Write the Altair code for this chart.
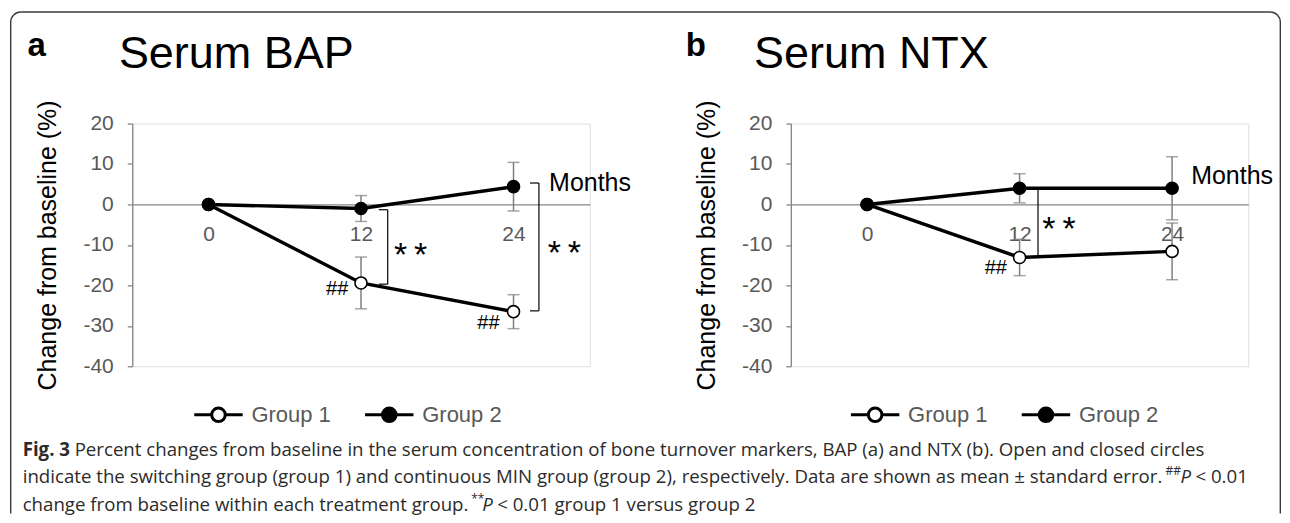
import altair as alt
import pandas as pd

# ---------------- values ----------------
MONTHS = [0, 12, 24]
GROUPS = ["Group 1", "Group 2"]

BAP_G1 = [0.0, -19.4, -26.5]
BAP_G1_SE = [0.0, 6.4, 4.2]
BAP_G2 = [0.0, -1.0, 4.4]
BAP_G2_SE = [0.0, 3.2, 6.0]

NTX_G1 = [0.0, -13.1, -11.6]
NTX_G1_SE = [0.0, 4.5, 7.0]
NTX_G2 = [0.0, 4.0, 4.0]
NTX_G2_SE = [0.0, 3.6, 7.8]

X_TICKS = [0, 12, 24]
Y_TICKS = [20, 10, 0, -10, -20, -30, -40]

# significance annotations (data units): bracket x, top, bottom
BAP_BRACKETS = [(14.1, -1.3, -19.7), (26.0, 5.3, -26.3)]
BAP_STARS = [(15.9, -10.8), (28.0, -10.2)]
BAP_HASH = [(11.0, -21.0), (22.9, -29.2)]
BAP_MONTHS = [(26.8, 5.3)]

NTX_BRACKETS = [(13.45, 4.1, -12.9)]
NTX_STARS = [(15.1, -4.4)]
NTX_HASH = [(11.0, -15.6)]
NTX_MONTHS = [(25.5, 7.1)]

CAPTION_1 = ("Percent changes from baseline in the serum concentration of bone turnover markers, "
             "BAP (a) and NTX (b). Open and closed circles")
CAPTION_2 = ("indicate the switching group (group 1) and continuous MIN group (group 2), respectively. "
             "Data are shown as mean \u00b1 standard error.")
CAPTION_3 = "change from baseline within each treatment group."
CAPTION_3_TAIL = "< 0.01 group 1 versus group 2"

# ---------------- styling ----------------
FONT = "Liberation Sans, Arial, Helvetica, sans-serif"
CAP_FONT = "Open Sans, Noto Sans, sans-serif"
CAP_COLOR = "#2b2b2b"
CAP_SIZE = 18.7
AX = "#868686"
TXT = "#595959"
ERR = "#7f7f7f"
W, H = 458, 243
XDOM = [-6, 30]
YDOM = [-40, 20]
ONE = alt.Data(values=[{"k": 1}])
STUB = 0.7

LEG_PATH = ("M-1,0H-0.28A0.28,0.28,0,1,1,0.28,0A0.28,0.28,0,1,1,-0.28,0"
            "M0.28,0H1")


def long_df(g1, g1se, g2, g2se):
    rows = []
    for grp, m, s in ((GROUPS[0], g1, g1se), (GROUPS[1], g2, g2se)):
        for mo, v, e in zip(MONTHS, m, s):
            rows.append(dict(month=mo, value=v, lo=v - e, hi=v + e, se=e, group=grp))
    return pd.DataFrame(rows)


def ptext(text, x, y, size, weight="normal", color="black", font=FONT,
          align="left", baseline="alphabetic", style="normal"):
    return alt.Chart(ONE).mark_text(
        text=text, fontSize=size, fontWeight=weight, color=color, font=font,
        align=align, baseline=baseline, fontStyle=style
    ).encode(x=alt.value(x), y=alt.value(y))


def panel(df, brackets, stars, hashes, months, ox, oy, letter, letter_x, title, title_x,
          legx, extra):
    xs = alt.Scale(domain=XDOM, nice=False, zero=False)
    ys = alt.Scale(domain=YDOM, nice=False, zero=False)
    x_axis = alt.Axis(values=X_TICKS, orient="bottom", offset=-H * 40 / 60,
                      domainColor=AX, domainWidth=1.3, ticks=False, tickSize=0,
                      labelPadding=19, labelFont=FONT, labelFontSize=21,
                      labelColor=TXT, grid=False, title=None, labelFlush=False,
                      labelExpr="datum.value + ''")
    y_axis = alt.Axis(values=Y_TICKS, orient="left", domainColor=AX, domainWidth=1.3,
                      tickColor=AX, tickWidth=1.3, tickSize=5, labelPadding=14,
                      labelFont=FONT, labelFontSize=21, labelColor=TXT, grid=False,
                      title="Change from baseline (%)", titleFont=FONT,
                      titleFontSize=25, titleFontWeight="normal", titleColor="black",
                      titlePadding=22, labelExpr="datum.value + ''")

    def X(f):
        return alt.X(f, type="quantitative", scale=xs, axis=x_axis)

    def Y(f):
        return alt.Y(f, type="quantitative", scale=ys, axis=y_axis)

    base = alt.Chart(df)
    err = base.transform_filter("datum.se > 0")
    bars = err.mark_rule(color=ERR, strokeWidth=1.5).encode(x=X("month"), y=Y("lo"), y2="hi")
    cap_lo = err.mark_tick(color=ERR, orient="horizontal", size=12, thickness=1.5).encode(
        x=X("month"), y=Y("lo"))
    cap_hi = err.mark_tick(color=ERR, orient="horizontal", size=12, thickness=1.5).encode(
        x=X("month"), y=Y("hi"))
    lines = base.mark_line(color="black", strokeWidth=3.4).encode(
        x=X("month"), y=Y("value"), detail="group:N")
    legend = alt.Legend(title=None, orient="none", legendX=legx, legendY=265.5,
                        direction="horizontal", symbolType=LEG_PATH, symbolSize=2352,
                        symbolStrokeColor="black", symbolStrokeWidth=3,
                        symbolOpacity=1, labelFont=FONT, labelFontSize=22,
                        labelColor=TXT, labelOffset=7, columnPadding=27, padding=0)
    points = base.mark_point(filled=True, shape="circle", size=145, stroke="black",
                             strokeWidth=1.6, opacity=1).encode(
        x=X("month"), y=Y("value"),
        fill=alt.Fill("group:N", scale=alt.Scale(domain=GROUPS, range=["white", "black"]),
                      legend=legend))

    bdf = pd.DataFrame([dict(x=b[0], xs=b[0] - STUB, top=b[1], bot=b[2]) for b in brackets])
    br_v = alt.Chart(bdf).mark_rule(color="black", strokeWidth=1.2).encode(
        x=X("x"), y=Y("top"), y2="bot")
    br_t = alt.Chart(bdf).mark_rule(color="black", strokeWidth=1.2).encode(
        x=X("xs"), x2="x", y=Y("top"))
    br_b = alt.Chart(bdf).mark_rule(color="black", strokeWidth=1.2).encode(
        x=X("xs"), x2="x", y=Y("bot"))

    sdf = pd.DataFrame([dict(x=s[0], y=s[1], t="*\u2009*") for s in stars])
    star_t = alt.Chart(sdf).mark_text(font=FONT, fontSize=34, dy=8, baseline="middle",
                                      align="center", color="black").encode(
        x=X("x"), y=Y("y"), text="t:N")
    hdf = pd.DataFrame([dict(x=h[0], y=h[1], t="##") for h in hashes])
    hash_t = alt.Chart(hdf).mark_text(font=FONT, fontSize=20, baseline="middle",
                                      align="right", color="black").encode(
        x=X("x"), y=Y("y"), text="t:N")
    mdf = pd.DataFrame([dict(x=m[0], y=m[1], t="Months") for m in months])
    mon_t = alt.Chart(mdf).mark_text(font=FONT, fontSize=25, baseline="middle",
                                     align="left", color="black").encode(
        x=X("x"), y=Y("y"), text="t:N")

    head = [
        ptext(letter, letter_x - ox, 55 - oy, 33, weight="bold"),
        ptext(title, title_x - ox, 66.7 - oy, 45),
    ]
    layers = [bars, cap_lo, cap_hi, lines, points, br_v, br_t, br_b,
              star_t, hash_t, mon_t] + head + extra
    return alt.layer(*layers).properties(width=W, height=H)


# ---------------- decorations (page pixel positions) ----------------
AOX, AOY = 131.7, 122.7
BOX, BOY = 791.0, 122.7


def rel(x, y):
    return x - AOX, y - AOY


def hrule(x1, x2, y):
    a, b = rel(x1, y)
    c, _ = rel(x2, y)
    return alt.Chart(ONE).mark_rule(color="#3a3a3a", strokeWidth=1.4).encode(
        x=alt.value(a), x2=alt.value(c), y=alt.value(b))


def vrule(x, y1, y2):
    a, b = rel(x, y1)
    _, d = rel(x, y2)
    return alt.Chart(ONE).mark_rule(color="#3a3a3a", strokeWidth=1.4).encode(
        x=alt.value(a), y=alt.value(b), y2=alt.value(d))


def corner(cx, cy, t1, t2):
    a, b = rel(cx, cy)
    return alt.Chart(ONE).mark_arc(radius=10.7, innerRadius=9.3, theta=t1, theta2=t2,
                                   color="#3a3a3a").encode(x=alt.value(a), y=alt.value(b))


border = [
    hrule(20, 1271, 11),
    vrule(10, 21, 513),
    vrule(1281, 21, 513),
    corner(20, 21, 4.712389, 6.283185),
    corner(1271, 21, 0.0, 1.570796),
]


def ctext(text, x, y, size=CAP_SIZE, weight="normal", style="normal"):
    return ptext(text, *rel(x, y), size, weight=weight, font=CAP_FONT, color=CAP_COLOR,
                 baseline="middle", style=style)


L1, L2, L3 = 449.5, 477.0, 504.5
cap = [
    ctext("Fig. 3", 22, L1, weight="bold"),
    ctext(CAPTION_1, 74, L1),
    ctext(CAPTION_2, 22, L2),
    ctext("##", 1166, L2 - 6, size=12),
    ctext("P", 1181, L2, style="italic"),
    ctext("< 0.01", 1196, L2),
    ctext(CAPTION_3, 22, L3),
    ctext("**", 471, L3 - 6, size=12),
    ctext("P", 482, L3, style="italic"),
    ctext(CAPTION_3_TAIL, 497, L3),
]

bap = long_df(BAP_G1, BAP_G1_SE, BAP_G2, BAP_G2_SE)
ntx = long_df(NTX_G1, NTX_G1_SE, NTX_G2, NTX_G2_SE)

pa = panel(bap, BAP_BRACKETS, BAP_STARS, BAP_HASH, BAP_MONTHS, AOX, AOY, "a", 26.7,
           "Serum BAP", 118.3, 60.3, border + cap)
pb = panel(ntx, NTX_BRACKETS, NTX_STARS, NTX_HASH, NTX_MONTHS, BOX, BOY, "b", 685.7,
           "Serum NTX", 754.2, 58.4, [])

chart = alt.hconcat(pa, pb, spacing=BOX - AOX - W, bounds="flush").resolve_scale(
    fill="independent").resolve_legend(fill="independent").properties(
    padding={"left": 1.4, "top": 2.4, "right": 0, "bottom": 0}
).configure_view(stroke=None).configure(font=FONT, background="white")

chart.save("out.html", embed_options={"renderer": "svg", "actions": False})
